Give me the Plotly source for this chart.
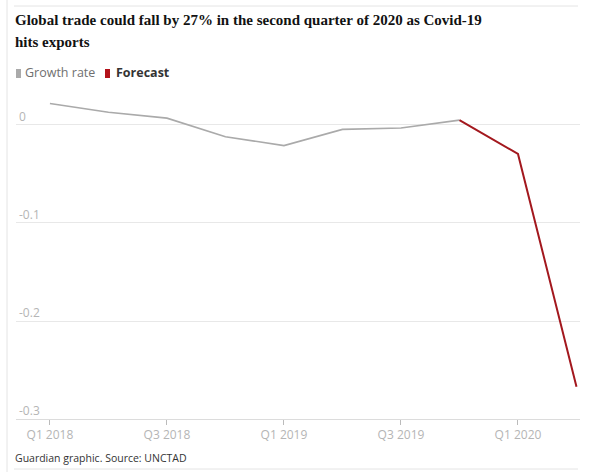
import plotly.graph_objects as go

quarters = ["Q1 2018", "Q2 2018", "Q3 2018", "Q4 2018", "Q1 2019",
            "Q2 2019", "Q3 2019", "Q4 2019", "Q1 2020", "Q2 2020"]
growth_quarters = quarters[:8]
growth_values = [0.022, 0.013, 0.007, -0.012, -0.021, -0.0045, -0.003, 0.005]
forecast_quarters = quarters[7:]
forecast_values = [0.005, -0.0295, -0.267]

x_tick_labels = ["Q1 2018", "Q3 2018", "Q1 2019", "Q3 2019", "Q1 2020"]
y_tick_vals = [0, -0.1, -0.2, -0.3]
y_tick_text = ["0", "-0.1", "-0.2", "-0.3"]

title_lines = ["Global trade could fall by 27% in the second quarter of 2020 as Covid-19",
               "hits exports"]
source_text = "Guardian graphic. Source: UNCTAD"

GREY = "#aaaaaa"
RED = "#a3181e"


def py(p):
    # pixel row -> paper y (plot area spans rows 90..419)
    return (419 - p) / 329


def px(p):
    # pixel column -> paper x (plot area spans columns 16..580)
    return (p - 16) / 564


fig = go.Figure()
fig.add_trace(go.Scatter(x=growth_quarters, y=growth_values, mode="lines",
                         line=dict(color=GREY, width=1.6), name="Growth rate",
                         showlegend=False, hoverinfo="skip"))
fig.add_trace(go.Scatter(x=forecast_quarters, y=forecast_values, mode="lines",
                         line=dict(color=RED, width=2), name="Forecast",
                         showlegend=False, hoverinfo="skip"))

annotations = []
for i, line in enumerate(title_lines):
    annotations.append(dict(
        text="<b>" + line + "</b>", xref="paper", yref="paper",
        x=px(13), y=py(20 + 22 * i), xanchor="left", yanchor="middle",
        align="left", showarrow=False,
        font=dict(family="Liberation Serif", size=15, color="#121212")))
annotations += [
    dict(text="Growth rate", xref="paper", yref="paper",
         x=px(23), y=py(73), xanchor="left", yanchor="middle",
         showarrow=False, font=dict(family="Open Sans", size=12.5, color="#707070")),
    dict(text="<b>Forecast</b>", xref="paper", yref="paper",
         x=px(114), y=py(73), xanchor="left", yanchor="middle",
         showarrow=False, font=dict(family="Open Sans", size=12.5, color="#333333")),
    dict(text=source_text, xref="paper", yref="paper",
         x=px(13), y=py(458), xanchor="left", yanchor="middle",
         showarrow=False, font=dict(family="Open Sans", size=10.5, color="#333333")),
]

fig.update_layout(
    width=600, height=472,
    margin=dict(l=16, r=20, t=90, b=53),
    paper_bgcolor="white", plot_bgcolor="white",
    font=dict(family="Open Sans", size=12, color="#bbbbbb"),
    xaxis=dict(
        type="category", categoryorder="array", categoryarray=quarters,
        range=[-0.58, 9.06],
        tickmode="array", tickvals=x_tick_labels, ticktext=x_tick_labels,
        showgrid=False, zeroline=False,
        showline=True, linecolor="#dcdcdc", linewidth=1,
        ticks="outside", ticklen=5, tickcolor="#bbbbbb", tickwidth=1,
        tickfont=dict(family="Open Sans", size=12, color="#b5b5b5"),
    ),
    yaxis=dict(
        range=[-0.3, 0.0357],
        tickmode="array", tickvals=y_tick_vals, ticktext=y_tick_text,
        showgrid=True, gridcolor="#e8e8e8", gridwidth=1,
        zeroline=False, showline=False, ticks="",
        ticklabelposition="inside top",
        tickfont=dict(family="Open Sans", size=12, color="#b5b5b5"),
    ),
    shapes=[
        dict(type="line", xref="paper", yref="paper", x0=px(7), x1=px(7),
             y0=py(472), y1=py(0), line=dict(color="#e4e4e4", width=1)),
        dict(type="line", xref="paper", yref="paper", x0=px(14), x1=px(578),
             y0=py(6), y1=py(6), line=dict(color="#e4e4e4", width=1)),
        dict(type="line", xref="paper", yref="paper", x0=px(14), x1=px(578),
             y0=py(469), y1=py(469), line=dict(color="#e4e4e4", width=1)),
        dict(type="rect", xref="paper", yref="paper", x0=px(16), x1=px(21),
             y0=py(78), y1=py(69), fillcolor=GREY, line=dict(width=0)),
        dict(type="rect", xref="paper", yref="paper", x0=px(105), x1=px(110),
             y0=py(78), y1=py(69), fillcolor="#b3121a", line=dict(width=0)),
    ],
    annotations=annotations,
)

fig.write_html("out.html")
